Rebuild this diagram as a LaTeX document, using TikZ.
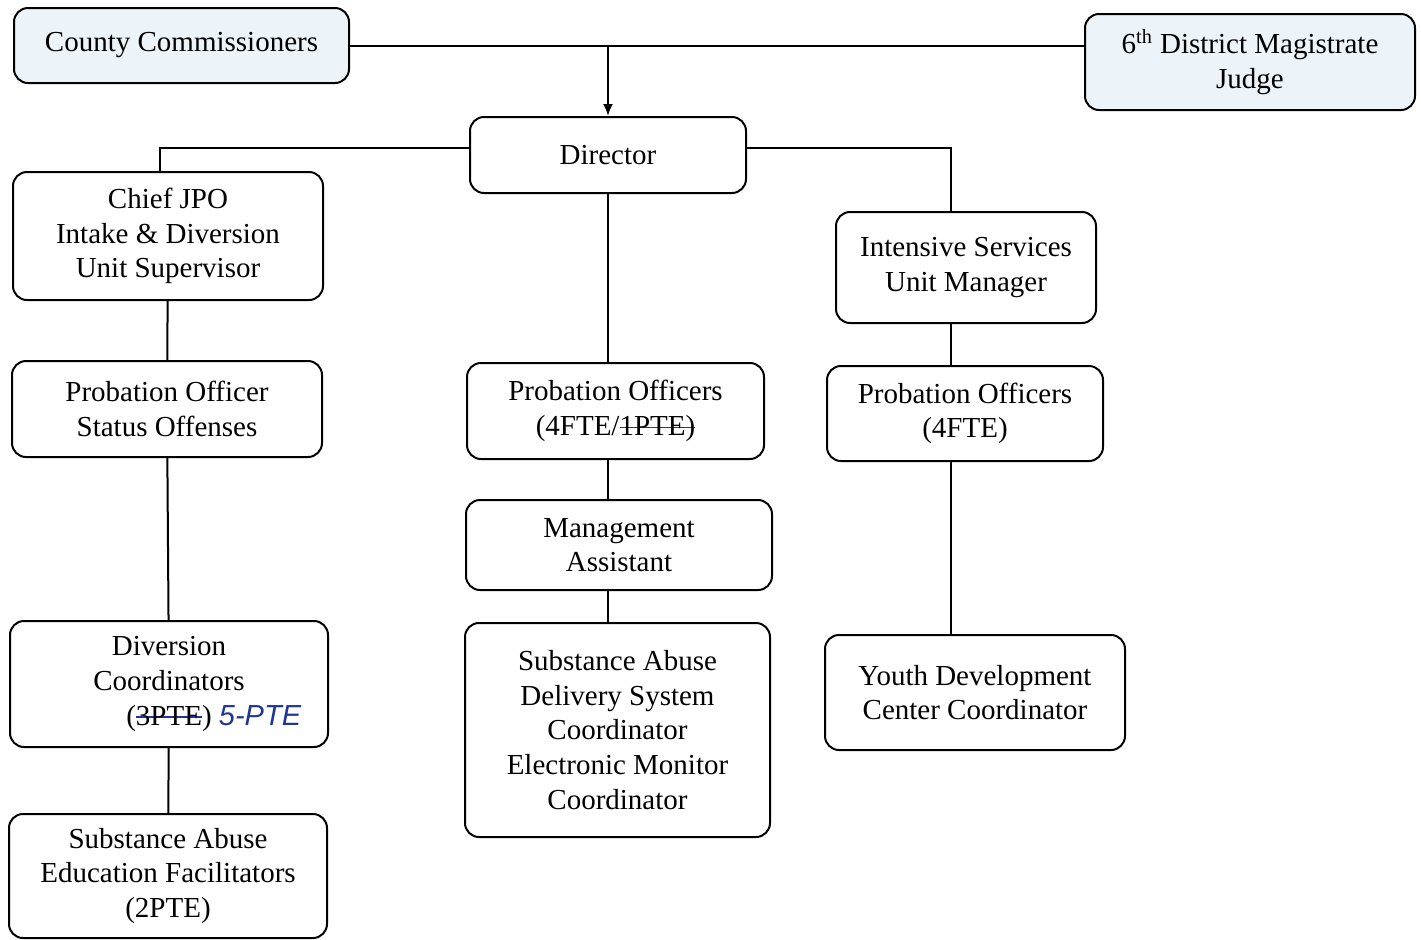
\documentclass[tikz,border=0pt]{standalone}
\usepackage{fontspec}
\setmainfont{Liberation Serif}
\newfontfamily\handfont{Liberation Sans}
\usetikzlibrary{arrows.meta}
\definecolor{topfill}{RGB}{236,243,249}
\definecolor{inkblue}{RGB}{30,55,150}
\newsavebox\strikebox
\newcommand\penstrike[1]{\sbox\strikebox{#1}\rlap{\textcolor{inkblue}{\rule[0.55ex]{\wd\strikebox}{0.7pt}}}\usebox\strikebox}
\newcommand\penhand[1]{{\handfont\itshape\color{inkblue}#1}}
\tikzset{
  orgbox/.style={draw, line width=1pt, rounded corners=7pt, align=center, inner sep=0pt,
    font=\fontsize{14.5}{17.3}\selectfont},
  topbox/.style={orgbox, fill=topfill}
}
\begin{document}
\begin{tikzpicture}[x=0.5pt, y=-0.5pt, line width=1pt]
      \useasboundingbox (0,0) rectangle (1421,939);
      \draw
        (181.5,45.5) node[topbox, minimum width=167.5pt, minimum height=37.5pt] (cc){County Commissioners}
        (1250,62) node[topbox, minimum width=165pt, minimum height=48pt] (mj){6\textsuperscript{th} District Magistrate\\Judge}
        (608,155) node[orgbox, minimum width=138pt, minimum height=38pt] (dir){Director}
        (168,236) node[orgbox, minimum width=155pt, minimum height=64pt] (chief){Chief JPO\\Intake \& Diversion\\Unit Supervisor}
        (167,409) node[orgbox, minimum width=155pt, minimum height=48pt] (pos){Probation Officer\\Status Offenses}
        (169,684) node[orgbox, minimum width=159pt, minimum height=63pt] (div){Diversion\\Coordinators\\(\penstrike{3PTE})\rlap{ \penhand{5-PTE}}}
        (168,876) node[orgbox, minimum width=159pt, minimum height=62pt] (saef){Substance Abuse\\Education Facilitators\\(2PTE)}
        (615.5,411) node[orgbox, minimum width=148.5pt, minimum height=48pt] (po1){Probation Officers\\(4FTE/\penstrike{1PTE)}}
        (619,545) node[orgbox, minimum width=153pt, minimum height=45pt] (ma){Management\\Assistant}
        (617.5,730) node[orgbox, minimum width=152.5pt, minimum height=107pt] (sads){Substance Abuse\\Delivery System\\Coordinator\\Electronic Monitor\\Coordinator}
        (966,267.5) node[orgbox, minimum width=130pt, minimum height=55.5pt] (isu){Intensive Services\\Unit Manager}
        (965,413.5) node[orgbox, minimum width=138pt, minimum height=47.5pt] (po2){Probation Officers\\(4FTE)}
        (975,692.5) node[orgbox, minimum width=150pt, minimum height=57.5pt] (ydc){Youth Development\\Center Coordinator};
      \begin{scope}[-]
        \draw (cc.east) -- (cc.east -| mj.west);
        \draw[-{Latex[length=6pt,width=5pt]}] (cc.east -| dir.north) -- (dir.north);
        \draw ([yshift=3.5pt]dir.west) -| ([xshift=-4pt]chief.north);
        \draw ([yshift=3.5pt]dir.east) -| ([xshift=-7.5pt]isu.north);
        \draw (chief) to (pos);
        \draw (pos) to (div);
        \draw (div) to (saef);
        \draw (dir.south) -- (dir.south |- po1.north);
        \draw (dir.south |- po1.south) -- (dir.south |- ma.north);
        \draw (dir.south |- ma.south) -- (dir.south |- sads.north);
        \draw ([xshift=-7.5pt]isu.south) -- ([xshift=-7.5pt]isu.south |- po2.north);
        \draw ([xshift=-7.5pt]isu.south |- po2.south) -- ([xshift=-7.5pt]isu.south |- ydc.north);
      \end{scope}
    \end{tikzpicture}
\end{document}
